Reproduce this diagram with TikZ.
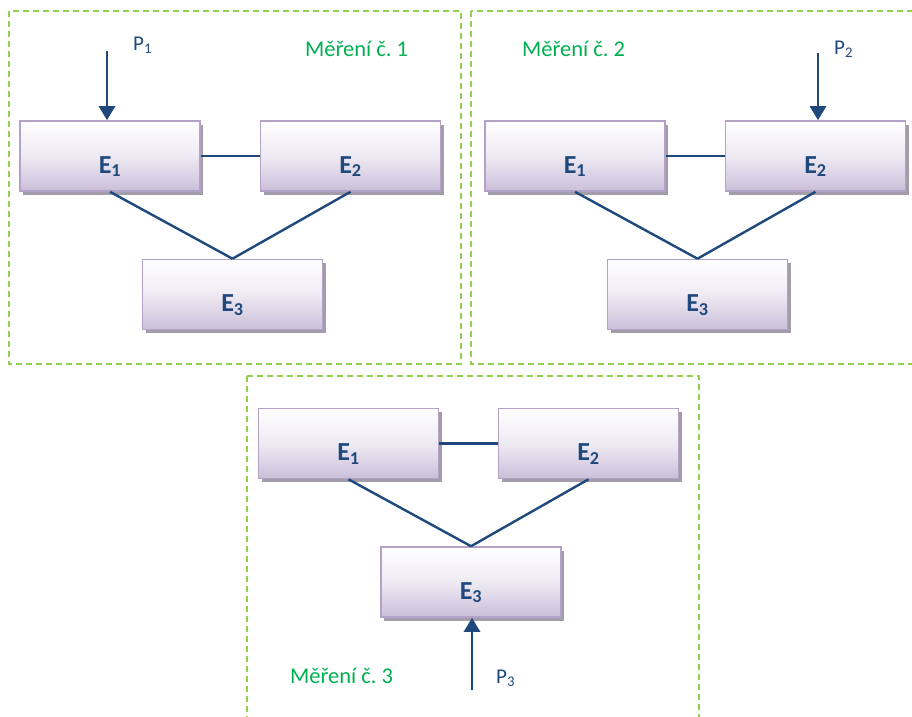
\documentclass[tikz,border=0pt]{standalone}
\usepackage{fontspec}
\setmainfont{Carlito}
\usetikzlibrary{shadows,arrows.meta}
\definecolor{navy}{HTML}{1F497D}
\definecolor{boxline}{HTML}{B3A2C7}
\definecolor{boxmid}{HTML}{EEEAF3}
\definecolor{boxlow}{HTML}{CBBFD9}
\definecolor{boxshade}{HTML}{A29CAB}
\definecolor{lime}{HTML}{92D050}
\definecolor{mgreen}{HTML}{00B050}
\frenchspacing

\begin{document}
\begin{tikzpicture}[x=1pt,y=-1pt,
    box/.style={rectangle,draw=boxline,line width=1.6pt,
      top color=white,bottom color=boxlow,middle color=boxmid,
      minimum width=180pt,minimum height=70pt,inner sep=0pt,
      text height=34pt,text depth=0pt,text=navy,
      font=\fontsize{26}{26}\selectfont\bfseries,
      drop shadow={shadow xshift=3pt,shadow yshift=-3.5pt,fill=boxshade,opacity=1}},
    link/.style={draw=navy,line width=2.4pt},
    push/.style={draw=navy,line width=2.8pt,-{Triangle[length=14pt,width=16pt]}},
    frame/.style={draw=lime,line width=1.3pt,dash pattern=on 6pt off 4pt},
    tag/.style={inner sep=0pt,anchor=base west,text=mgreen,font=\fontsize{22.5}{22.5}\selectfont},
    force/.style={inner sep=0pt,anchor=base west,text=navy,font=\fontsize{21}{21}\selectfont}]
  \useasboundingbox (0,0) rectangle (912,716);

  % measurement frames
  \draw[frame] (9,11) rectangle (461,364);
  \draw[frame] (471,11) rectangle (914,364);
  \draw[frame] (247,376) rectangle (699,722);

  % measurement 1
  \node[box] (a1) at (110,156) {E\textsubscript{1}};
  \node[box] (a2) at (350.5,156) {E\textsubscript{2}};
  \node[box] (a3) at (232.5,294.5) {E\textsubscript{3}};
  \draw[link] (a1.east) -- (a2.west);
  \draw[link] (a1.south) -- (a3.north);
  \draw[link] (a2.south) -- (a3.north);
  \coordinate (p1) at (107,51);
  \draw[push] (p1) -- (p1 |- a1.north);
  \node[force] (f1) at (133,50) {P\textsubscript{1}};
  \node[tag] (t1) at (305,56) {Měření č. 1};

  % measurement 2
  \node[box] (b1) at (575,156) {E\textsubscript{1}};
  \node[box] (b2) at (815.5,156) {E\textsubscript{2}};
  \node[box] (b3) at (697.5,294.5) {E\textsubscript{3}};
  \draw[link] (b1.east) -- (b2.west);
  \draw[link] (b1.south) -- (b3.north);
  \draw[link] (b2.south) -- (b3.north);
  \coordinate (p2) at (818,53);
  \draw[push] (p2) -- (p2 |- b2.north);
  \node[force] (f2) at (834,54) {P\textsubscript{2}};
  \node[tag] (t2) at (522,56) {Měření č. 2};

  % measurement 3
  \node[box] (c1) at (348.5,443.5) {E\textsubscript{1}};
  \node[box] (c2) at (588.5,443.5) {E\textsubscript{2}};
  \node[box] (c3) at (471,582) {E\textsubscript{3}};
  \draw[link] (c1.east) -- (c2.west);
  \draw[link] (c1.south) -- (c3.north);
  \draw[link] (c2.south) -- (c3.north);
  \coordinate (p3) at (472,690);
  \draw[push] (p3) -- (p3 |- c3.south);
  \node[force] (f3) at (496,683) {P\textsubscript{3}};
  \node[tag] (t3) at (290,683) {Měření č. 3};
\end{tikzpicture}
\end{document}
